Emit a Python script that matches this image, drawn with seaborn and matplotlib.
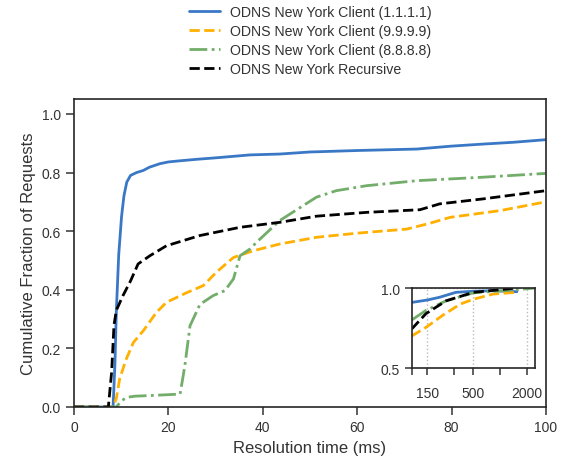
import numpy as np
import pandas as pd
import matplotlib
matplotlib.use("Agg")
import matplotlib.pyplot as plt
import seaborn as sns
from matplotlib.ticker import FixedLocator, NullFormatter, FixedFormatter, NullLocator

sns.set_style("ticks")
plt.rcParams['font.family'] = ['Liberation Sans', 'DejaVu Sans']
plt.rcParams['text.color'] = '.2'
plt.rcParams['axes.labelcolor'] = '.2'
plt.rcParams['xtick.color'] = '.2'
plt.rcParams['ytick.color'] = '.2'

labels = ['ODNS New York Client (1.1.1.1)', 'ODNS New York Client (9.9.9.9)',
          'ODNS New York Client (8.8.8.8)', 'ODNS New York Recursive']

# main panel (0-100 ms)
blue_x = [0, 7, 8.3, 8.7, 9.0, 9.5, 10.1, 10.6, 11.2, 12, 13.3, 14.7, 16, 18.2, 20, 22.5,
          26, 30, 37.3, 43.6, 50, 60, 72.6, 80, 86.7, 93, 100]
blue_y = [0, 0, 0, 0.15, 0.33, 0.52, 0.65, 0.72, 0.767, 0.79, 0.80, 0.807, 0.818, 0.83,
          0.836, 0.84, 0.845, 0.85, 0.86, 0.863, 0.87, 0.875, 0.88, 0.89, 0.897, 0.903, 0.912]

orange_x = [0, 8.3, 9.0, 9.7, 11, 12.6, 14.7, 17.5, 19.6, 23.9, 27.4, 30.2, 33.8, 38,
            43.6, 51.4, 60, 70.5, 75, 79.7, 90.3, 100]
orange_y = [0, 0, 0.03, 0.096, 0.16, 0.22, 0.26, 0.323, 0.357, 0.39, 0.414, 0.46, 0.51,
            0.533, 0.556, 0.579, 0.593, 0.607, 0.625, 0.647, 0.67, 0.70]

green_x = [0, 9, 10, 11.2, 13, 16.1, 22.5, 23.5, 24.6, 26.7, 29.5, 32.0, 33.8, 35.2,
           37.3, 38.7, 43.6, 51.4, 55.6, 62, 72.6, 86.7, 100]
green_y = [0, 0, 0.02, 0.033, 0.037, 0.039, 0.044, 0.14, 0.277, 0.35, 0.38, 0.397, 0.437,
           0.516, 0.539, 0.562, 0.636, 0.716, 0.738, 0.755, 0.772, 0.784, 0.797]

black_x = [0, 7.3, 8.0, 8.5, 9.0, 10.4, 12, 13.6, 16.1, 19.6, 26.7, 35.2, 43.6, 51.4,
           62, 73.3, 77.5, 86.7, 100]
black_y = [0, 0, 0.12, 0.28, 0.33, 0.38, 0.43, 0.488, 0.516, 0.55, 0.585, 0.613, 0.63,
           0.651, 0.664, 0.673, 0.693, 0.71, 0.738]

# inset (100 ms and up, log x)
blue_in_x = [100, 150, 206, 316, 500, 830, 1550]
blue_in_y = [0.91, 0.925, 0.942, 0.973, 0.98, 0.983, 0.977]
orange_in_x = [100, 145, 225, 355, 500, 830, 1500]
orange_in_y = [0.70, 0.754, 0.83, 0.90, 0.93, 0.962, 0.973]
green_in_x = [100, 145, 245, 500, 1550, 2500]
green_in_y = [0.80, 0.86, 0.92, 0.97, 0.99, 1.0]
black_in_x = [100, 145, 245, 500, 1200, 1500]
black_in_y = [0.744, 0.84, 0.92, 0.973, 0.994, 1.0]

colors = ['#3a78c6', '#ffb000', '#72ad6a', '#000000']
styles = ['-', '--', '-.', '--']

main_series = [(blue_x, blue_y), (orange_x, orange_y), (green_x, green_y), (black_x, black_y)]
inset_series = [(blue_in_x, blue_in_y), (orange_in_x, orange_in_y),
                (green_in_x, green_in_y), (black_in_x, black_in_y)]

fig = plt.figure(figsize=(5.64, 4.64), dpi=100)
ax = fig.add_axes([0.131, 0.1207, 0.837, 0.6633])

for (xs, ys), lab, c, ls in zip(main_series, labels, colors, styles):
    sns.lineplot(x=xs, y=ys, ax=ax, color=c, linestyle=ls, linewidth=2, label=lab)

ax.set_xlim(0, 100)
ax.set_ylim(0, 1.05)
ax.set_yticks([0, 0.2, 0.4, 0.6, 0.8, 1.0])
ax.set_yticklabels(['0.0', '0.2', '0.4', '0.6', '0.8', '1.0'])
ax.set_xticks([0, 20, 40, 60, 80, 100])
ax.tick_params(labelsize=10, length=6, width=1.1)
ax.set_xlabel('Resolution time (ms)', fontsize=12)
ax.set_ylabel('Cumulative Fraction of Requests', fontsize=12)
for sp in ax.spines.values():
    sp.set_linewidth(1.2)
    sp.set_color('.15')

handles, labs = ax.get_legend_handles_labels()
ax.get_legend().remove()
fig.legend(handles, labs, loc='upper center', bbox_to_anchor=(0.55, 1.005), frameon=False,
           fontsize=10.2, handlelength=2.2, handletextpad=0.7, labelspacing=0.35,
           borderaxespad=0.2)

ins = fig.add_axes([0.730, 0.2047, 0.219, 0.1724])
for (xs, ys), c, ls in zip(inset_series, colors, styles):
    sns.lineplot(x=xs, y=ys, ax=ins, color=c, linestyle=ls, linewidth=2)
ins.set_xscale('log')
ins.set_xlim(100, 2500)
ins.set_ylim(0.5, 1.0)
ins.set_yticks([0.5, 1.0])
ins.set_yticklabels(['0.5', '1.0'])
ins.xaxis.set_major_locator(FixedLocator([100, 150, 300, 500, 1000, 2000]))
ins.xaxis.set_major_formatter(FixedFormatter(['', '150', '', '500', '', '2000']))
ins.xaxis.set_minor_locator(NullLocator())
ins.xaxis.set_minor_formatter(NullFormatter())
ins.tick_params(labelsize=10, length=5, width=1.1)
ins.tick_params(axis='x', pad=8)
for v in [150, 500, 2000]:
    ins.axvline(v, color='#bbbbbb', linestyle=':', linewidth=1, zorder=0)
ins.axhline(1.0, color='#bbbbbb', linestyle=':', linewidth=1, zorder=0)
for sp in ins.spines.values():
    sp.set_linewidth(1.2)
    sp.set_color('.15')

fig.savefig('out.png', dpi=100)
